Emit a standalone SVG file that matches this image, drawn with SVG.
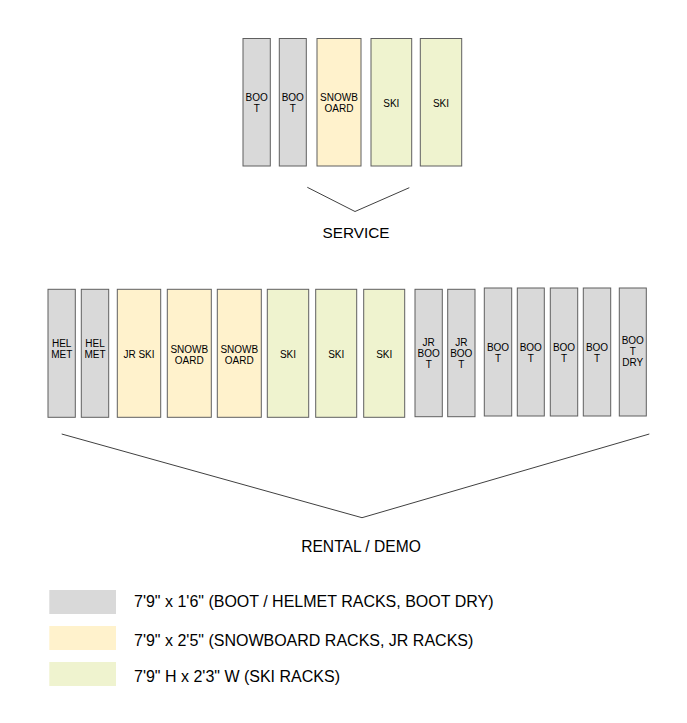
<svg xmlns="http://www.w3.org/2000/svg" width="687" height="723" viewBox="0 0 687 723">
<style>
  .g { fill: #d9d9d9; stroke: #5f5f5f; stroke-width: 1; }
  .y { fill: #fff2cc; stroke: #5f5f5f; stroke-width: 1; }
  .e { fill: #eff3cf; stroke: #5f5f5f; stroke-width: 1; }
  .t { font-family: "Liberation Sans", Arial, sans-serif; font-size: 10px; fill: #000; text-anchor: middle; }
  .big { font-family: "Liberation Sans", Arial, sans-serif; font-size: 15.6px; fill: #000; text-anchor: middle; }
  .leg { font-family: "Liberation Sans", Arial, sans-serif; font-size: 16px; fill: #000; }
  .ln { fill: none; stroke: #404040; stroke-width: 1; }
</style>
<rect width="687" height="723" fill="#ffffff"/>

<!-- SERVICE row -->
<g id="s-boot1"><rect class="g" x="243" y="38.5" width="27.3" height="127.5"/><text class="t" x="256.7" y="100.7">BOO</text><text class="t" x="256.7" y="111.7">T</text></g>
<g id="s-boot2"><rect class="g" x="279.3" y="38.5" width="27" height="127.5"/><text class="t" x="292.8" y="100.7">BOO</text><text class="t" x="292.8" y="111.7">T</text></g>
<g id="s-snowboard"><rect class="y" x="317" y="38.5" width="44" height="127.5"/><text class="t" x="339" y="100.5">SNOWB</text><text class="t" x="339" y="111.5">OARD</text></g>
<g id="s-ski1"><rect class="e" x="371" y="38.5" width="40.7" height="127.5"/><text class="t" x="391.3" y="107.3">SKI</text></g>
<g id="s-ski2"><rect class="e" x="420.3" y="38.5" width="41.4" height="127.5"/><text class="t" x="441" y="107.3">SKI</text></g>

<!-- RENTAL / DEMO row -->
<g id="r-helmet1"><rect class="g" x="48" y="289.3" width="27.3" height="128"/><text class="t" x="61.7" y="346.7">HEL</text><text class="t" x="61.7" y="358">MET</text></g>
<g id="r-helmet2"><rect class="g" x="81.3" y="289.3" width="27.4" height="128"/><text class="t" x="95" y="346.7">HEL</text><text class="t" x="95" y="358">MET</text></g>
<g id="r-jrski"><rect class="y" x="117.3" y="289.3" width="43.4" height="128"/><text class="t" x="139" y="358">JR SKI</text></g>
<g id="r-snowboard1"><rect class="y" x="167.3" y="289.3" width="44" height="128"/><text class="t" x="189.3" y="352.7">SNOWB</text><text class="t" x="189.3" y="364">OARD</text></g>
<g id="r-snowboard2"><rect class="y" x="217.3" y="289.3" width="44" height="128"/><text class="t" x="239.3" y="352.7">SNOWB</text><text class="t" x="239.3" y="364">OARD</text></g>
<g id="r-ski1"><rect class="e" x="267.3" y="289.3" width="41.4" height="128"/><text class="t" x="288" y="357.7">SKI</text></g>
<g id="r-ski2"><rect class="e" x="315.7" y="289.3" width="41" height="128"/><text class="t" x="336.2" y="357.7">SKI</text></g>
<g id="r-ski3"><rect class="e" x="363.7" y="289.3" width="41" height="128"/><text class="t" x="384.2" y="357.7">SKI</text></g>
<g id="r-jrboot1"><rect class="g" x="415" y="289.3" width="27.3" height="127.4"/><text class="t" x="428.7" y="346">JR</text><text class="t" x="428.7" y="357">BOO</text><text class="t" x="428.7" y="367.5">T</text></g>
<g id="r-jrboot2"><rect class="g" x="447.7" y="289.3" width="27.3" height="127.4"/><text class="t" x="461.3" y="346">JR</text><text class="t" x="461.3" y="357">BOO</text><text class="t" x="461.3" y="367.5">T</text></g>
<g id="r-boot1"><rect class="g" x="484.3" y="288" width="27.4" height="128"/><text class="t" x="498" y="350.7">BOO</text><text class="t" x="498" y="361.7">T</text></g>
<g id="r-boot2"><rect class="g" x="517.3" y="288" width="27" height="128"/><text class="t" x="530.8" y="350.7">BOO</text><text class="t" x="530.8" y="361.7">T</text></g>
<g id="r-boot3"><rect class="g" x="550.3" y="288" width="27.4" height="128"/><text class="t" x="564" y="350.7">BOO</text><text class="t" x="564" y="361.7">T</text></g>
<g id="r-boot4"><rect class="g" x="583.3" y="288" width="27.4" height="128"/><text class="t" x="597" y="350.7">BOO</text><text class="t" x="597" y="361.7">T</text></g>
<g id="r-bootdry"><rect class="g" x="619.3" y="288" width="27" height="128"/><text class="t" x="632.8" y="344">BOO</text><text class="t" x="632.8" y="355">T</text><text class="t" x="632.8" y="366">DRY</text></g>

<!-- connectors / braces -->
<g id="connectors">
  <polyline class="ln" points="307.3,187.3 355,211.5 409.3,187.7"/>
  <polyline class="ln" points="61.7,434 362,517.7 649.3,434"/>
</g>

<!-- section labels -->
<g id="label-service"><text class="big" x="356" y="238.3" style="font-size:15.3px">SERVICE</text></g>
<g id="label-rental"><text class="big" x="361" y="551.7">RENTAL / DEMO</text></g>

<!-- legend -->
<g id="legend">
  <rect x="49.3" y="590" width="66.7" height="24" fill="#d9d9d9"/>
  <rect x="49.3" y="626" width="66.7" height="24" fill="#fff2cc"/>
  <rect x="49.3" y="662" width="66.7" height="24" fill="#eff3cf"/>
  <text class="leg" x="134" y="606.7">7'9" x 1'6" (BOOT / HELMET RACKS, BOOT DRY)</text>
  <text class="leg" x="134" y="645.7">7'9" x 2'5" (SNOWBOARD RACKS, JR RACKS)</text>
  <text class="leg" x="134" y="681.7">7'9" H x 2'3" W (SKI RACKS)</text>
</g>
</svg>
